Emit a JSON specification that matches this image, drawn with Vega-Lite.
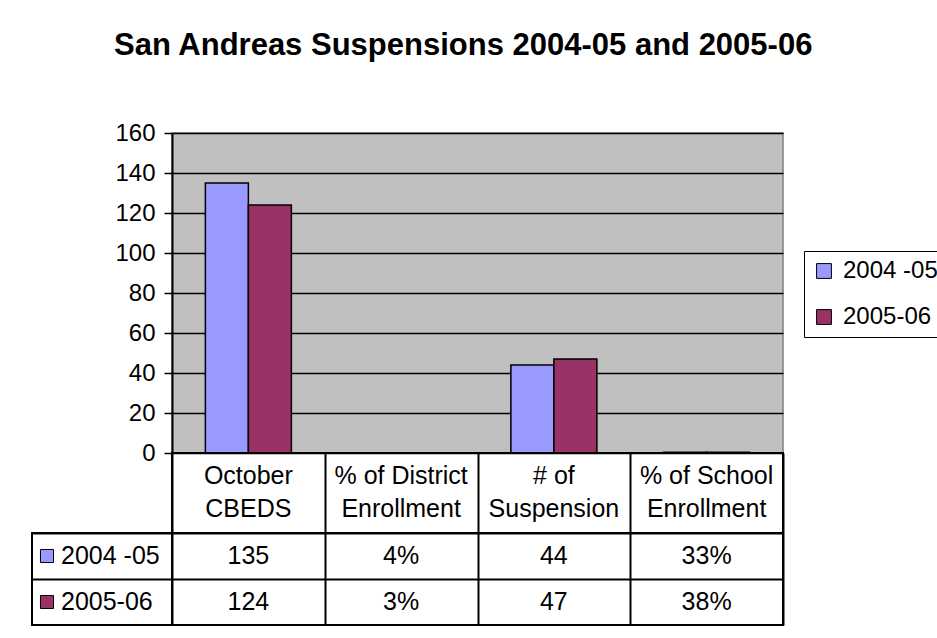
{
  "$schema": "https://vega.github.io/schema/vega-lite/v6.json",
  "background": "white",
  "padding": {"left": 31, "top": 30, "right": 0, "bottom": 0},
  "title": {
    "text": "San Andreas Suspensions 2004-05 and 2005-06",
    "font": "Liberation Sans",
    "fontSize": 31,
    "fontWeight": "bold",
    "color": "black",
    "anchor": "start",
    "frame": "group",
    "offset": 58,
    "dx": 82
  },
  "datasets": {
    "bars": [
      {"category": "October CBEDS", "series": "2004 -05", "value": 135, "label": "135"},
      {"category": "October CBEDS", "series": "2005-06", "value": 124, "label": "124"},
      {"category": "% of District Enrollment", "series": "2004 -05", "value": 0.04, "label": "4%"},
      {"category": "% of District Enrollment", "series": "2005-06", "value": 0.03, "label": "3%"},
      {"category": "# of Suspension", "series": "2004 -05", "value": 44, "label": "44"},
      {"category": "# of Suspension", "series": "2005-06", "value": 47, "label": "47"},
      {"category": "% of School Enrollment", "series": "2004 -05", "value": 0.33, "label": "33%"},
      {"category": "% of School Enrollment", "series": "2005-06", "value": 0.38, "label": "38%"}
    ],
    "cats": [
      {"category": "October CBEDS", "header": "October\nCBEDS"},
      {"category": "% of District Enrollment", "header": "% of District\nEnrollment"},
      {"category": "# of Suspension", "header": "# of\nSuspension"},
      {"category": "% of School Enrollment", "header": "% of School\nEnrollment"}
    ],
    "series": [
      {"series": "2004 -05"},
      {"series": "2005-06"}
    ],
    "empty": []
  },
  "columns": 2,
  "spacing": 0,
  "bounds": "flush",
  "concat": [
    {
      "width": 140, "height": 320,
      "data": {"name": "empty"},
      "mark": "point",
      "encoding": {},
      "view": {"stroke": null}
    },
    {
      "width": 611, "height": 320,
      "data": {"name": "bars"},
      "mark": {"type": "bar", "stroke": "black", "strokeWidth": 1.5},
      "encoding": {
        "x": {
          "field": "category", "type": "nominal",
          "sort": ["October CBEDS", "% of District Enrollment", "# of Suspension", "% of School Enrollment"],
          "scale": {"paddingInner": 0, "paddingOuter": 0},
          "axis": null
        },
        "xOffset": {
          "field": "series", "type": "nominal",
          "scale": {"paddingInner": 0, "paddingOuter": 0.776}
        },
        "y": {
          "field": "value", "type": "quantitative",
          "scale": {"domain": [0, 160], "nice": false},
          "axis": {
            "title": null,
            "values": [0, 20, 40, 60, 80, 100, 120, 140, 160],
            "grid": true, "gridColor": "black", "gridWidth": 1.5, "gridOpacity": 1,
            "domainColor": "black", "domainWidth": 2,
            "tickColor": "black", "tickWidth": 1.5, "tickSize": 8,
            "labelFont": "Liberation Sans", "labelFontSize": 24, "labelColor": "black",
            "labelPadding": 9
          }
        },
        "color": {
          "field": "series", "type": "nominal",
          "scale": {"domain": ["2004 -05", "2005-06"], "range": ["#9999FF", "#993366"]},
          "legend": {
            "orient": "none", "legendX": 772, "legendY": 118,
            "title": null, "direction": "vertical",
            "strokeColor": "black", "fillColor": "white", "padding": 8,
            "symbolType": "square", "symbolSize": 220,
            "symbolStrokeColor": "black", "symbolStrokeWidth": 1, "symbolOpacity": 1,
            "labelFont": "Liberation Sans", "labelFontSize": 24, "labelColor": "black",
            "labelOffset": 7, "rowPadding": 22
          }
        }
      },
      "view": {"fill": "#C0C0C0", "stroke": "#808080", "strokeWidth": 1.5}
    },
    {
      "width": 140, "height": 80,
      "data": {"name": "empty"},
      "mark": "point",
      "encoding": {},
      "view": {"stroke": null}
    },
    {
      "width": 611, "height": 80,
      "data": {"name": "cats"},
      "mark": {"type": "text", "font": "Liberation Sans", "fontSize": 25, "lineHeight": 33, "lineBreak": "\n", "baseline": "middle", "dy": -17, "color": "black"},
      "encoding": {
        "x": {
          "field": "category", "type": "nominal",
          "sort": ["October CBEDS", "% of District Enrollment", "# of Suspension", "% of School Enrollment"],
          "scale": {"paddingInner": 0, "paddingOuter": 0},
          "axis": {"title": null, "labels": false, "ticks": false, "domain": false, "grid": true, "tickBand": "extent", "gridColor": "black", "gridWidth": 2, "gridOpacity": 1}
        },
        "text": {"field": "header"}
      },
      "view": {"stroke": "black", "strokeWidth": 2}
    },
    {
      "width": 140, "height": 92,
      "data": {"name": "series"},
      "encoding": {
        "y": {
          "field": "series", "type": "nominal",
          "scale": {"paddingInner": 0, "paddingOuter": 0},
          "axis": {"title": null, "labels": false, "ticks": false, "domain": false, "grid": true, "tickBand": "extent", "gridColor": "black", "gridWidth": 2, "gridOpacity": 1}
        }
      },
      "layer": [
        {
          "mark": {"type": "point", "shape": "square", "filled": true, "size": 170, "stroke": "black", "strokeWidth": 1, "opacity": 1, "xOffset": -55},
          "encoding": {
            "color": {"field": "series", "type": "nominal", "scale": {"domain": ["2004 -05", "2005-06"], "range": ["#9999FF", "#993366"]}, "legend": null}
          }
        },
        {
          "mark": {"type": "text", "align": "left", "baseline": "middle", "font": "Liberation Sans", "fontSize": 25, "color": "black", "xOffset": -41},
          "encoding": {"text": {"field": "series"}}
        }
      ],
      "view": {"stroke": "black", "strokeWidth": 2}
    },
    {
      "width": 611, "height": 92,
      "data": {"name": "bars"},
      "mark": {"type": "text", "font": "Liberation Sans", "fontSize": 25, "baseline": "middle", "color": "black"},
      "encoding": {
        "x": {
          "field": "category", "type": "nominal",
          "sort": ["October CBEDS", "% of District Enrollment", "# of Suspension", "% of School Enrollment"],
          "scale": {"paddingInner": 0, "paddingOuter": 0},
          "axis": {"title": null, "labels": false, "ticks": false, "domain": false, "grid": true, "tickBand": "extent", "gridColor": "black", "gridWidth": 2, "gridOpacity": 1}
        },
        "y": {
          "field": "series", "type": "nominal",
          "scale": {"paddingInner": 0, "paddingOuter": 0},
          "axis": {"title": null, "labels": false, "ticks": false, "domain": false, "grid": true, "tickBand": "extent", "gridColor": "black", "gridWidth": 2, "gridOpacity": 1}
        },
        "text": {"field": "label"}
      },
      "view": {"stroke": "black", "strokeWidth": 2}
    }
  ]
}
